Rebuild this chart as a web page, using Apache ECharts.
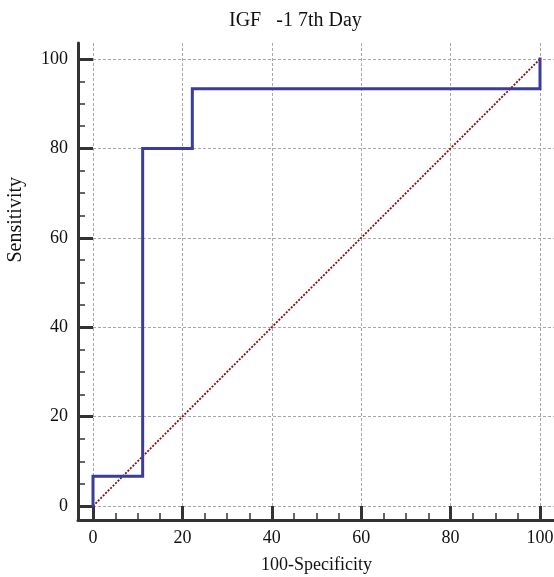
<!DOCTYPE html>
<html>
<head>
<meta charset="utf-8">
<script src="https://cdn.jsdelivr.net/npm/echarts@6/dist/echarts.min.js"></script>
<style>
  html, body { margin: 0; padding: 0; background: #fff; }
  #chart { width: 554px; height: 577px; }
</style>
</head>
<body>
<div id="chart"></div>
<script>
// ROC curve for IGF-1 on day 7
const rocX = [0, 0, 11.11, 11.11, 22.22, 22.22, 100, 100];
const rocY = [0, 6.67, 6.67, 80, 80, 93.33, 93.33, 100];
const refX = [0, 100];
const refY = [0, 100];

const FONT = 'Liberation Serif';
const AXIS_COLOR = '#333';
const TEXT_COLOR = '#111';

const rocData = rocX.map((x, i) => [x, rocY[i]]);
const refData = refX.map((x, i) => [x, refY[i]]);

const chart = echarts.init(document.getElementById('chart'), null, { renderer: 'canvas' });

// Data area: 0..100 maps to x 93..540, y 506..59; the dashed grid runs a bit past 100
const plotLeft = 93, plotRight = 14, plotTop = 59, plotBottom = 71;
const frameLeft = 78, frameBottom = 57, frameTop = 43;
const unitPx = (554 - plotLeft - plotRight) / 100;
const xMaxExt = (554 - plotLeft) / unitPx;
const yMaxExt = (577 - plotBottom - frameTop) / unitPx;

const noGrid = { outerBoundsMode: 'none', containLabel: false };
const hidden = {
  axisLine: { show: false }, axisTick: { show: false },
  axisLabel: { show: false }, splitLine: { show: false }
};
const majorTick = (len) => ({ show: true, inside: true, length: len, lineStyle: { color: AXIS_COLOR, width: 3 } });
const minorTick = { show: true, splitNumber: 4, length: 7, lineStyle: { color: AXIS_COLOR, width: 1.5 } };
const gridLine = { show: true, showMaxLine: false, lineStyle: { color: '#a8a8a8', width: 1, type: [3, 2] } };
const frameLine = { show: true, onZero: false, lineStyle: { color: AXIS_COLOR, width: 3 } };

chart.setOption({
  animation: false,
  title: {
    text: 'IGF   -1 7th Day',
    left: 224, top: 6,
    textStyle: { fontFamily: FONT, fontSize: 20, fontWeight: 'normal', color: TEXT_COLOR }
  },
  grid: [
    // 0: gridlines and data
    Object.assign({ left: plotLeft, right: 0, top: frameTop, bottom: plotBottom }, noGrid),
    // 1: L-shaped axis frame
    Object.assign({ left: frameLeft, right: 0, top: frameTop, bottom: frameBottom }, noGrid),
    // 2: y ticks and labels, hung on the frame's left line
    Object.assign({ left: frameLeft, right: plotRight, top: plotTop, bottom: plotBottom }, noGrid),
    // 3: x ticks and labels, hung on the frame's bottom line
    Object.assign({ left: plotLeft, right: plotRight, top: plotTop, bottom: frameBottom }, noGrid)
  ],
  xAxis: [
    { gridIndex: 0, type: 'value', min: 0, max: xMaxExt, interval: 20,
      axisLine: { show: false }, axisTick: { show: false }, axisLabel: { show: false }, splitLine: gridLine },
    Object.assign({ gridIndex: 1, type: 'value', min: 0, max: 100 }, hidden, { axisLine: frameLine }),
    Object.assign({ gridIndex: 2, type: 'value', min: 0, max: 100 }, hidden),
    {
      gridIndex: 3, type: 'value', min: 0, max: 100, interval: 20,
      name: '100-Specificity', nameLocation: 'middle', nameGap: 36,
      nameTextStyle: { fontFamily: FONT, fontSize: 18, color: TEXT_COLOR },
      axisLine: { show: false },
      axisTick: majorTick(14), minorTick: minorTick,
      axisLabel: { margin: 9, fontFamily: FONT, fontSize: 18, color: TEXT_COLOR },
      splitLine: { show: false }
    }
  ],
  yAxis: [
    { gridIndex: 0, type: 'value', min: 0, max: yMaxExt, interval: 20,
      axisLine: { show: false }, axisTick: { show: false }, axisLabel: { show: false }, splitLine: gridLine },
    Object.assign({ gridIndex: 1, type: 'value', min: 0, max: 100 }, hidden, { axisLine: frameLine }),
    {
      gridIndex: 2, type: 'value', min: 0, max: 100, interval: 20,
      axisLine: { show: false },
      axisTick: majorTick(15), minorTick: minorTick,
      axisLabel: { margin: 10, fontFamily: FONT, fontSize: 18, color: TEXT_COLOR },
      splitLine: { show: false }
    },
    Object.assign({ gridIndex: 3, type: 'value', min: 0, max: 100 }, hidden)
  ],
  graphic: [
    {
      type: 'text', left: 6, top: 177, rotation: Math.PI / 2,
      style: { text: 'Sensitivity', font: '20px "Liberation Serif"', fill: TEXT_COLOR }
    }
  ],
  series: [
    {
      type: 'line', xAxisIndex: 0, yAxisIndex: 0, data: refData,
      symbol: 'none', silent: true, z: 2,
      lineStyle: { color: '#8b0a0a', width: 1.8, type: [2, 1.5] }
    },
    {
      type: 'line', xAxisIndex: 0, yAxisIndex: 0, data: rocData,
      symbol: 'none', silent: true, z: 3,
      lineStyle: { color: '#3b3d9e', width: 3, join: 'miter', cap: 'square' }
    }
  ]
});
</script>
</body>
</html>
